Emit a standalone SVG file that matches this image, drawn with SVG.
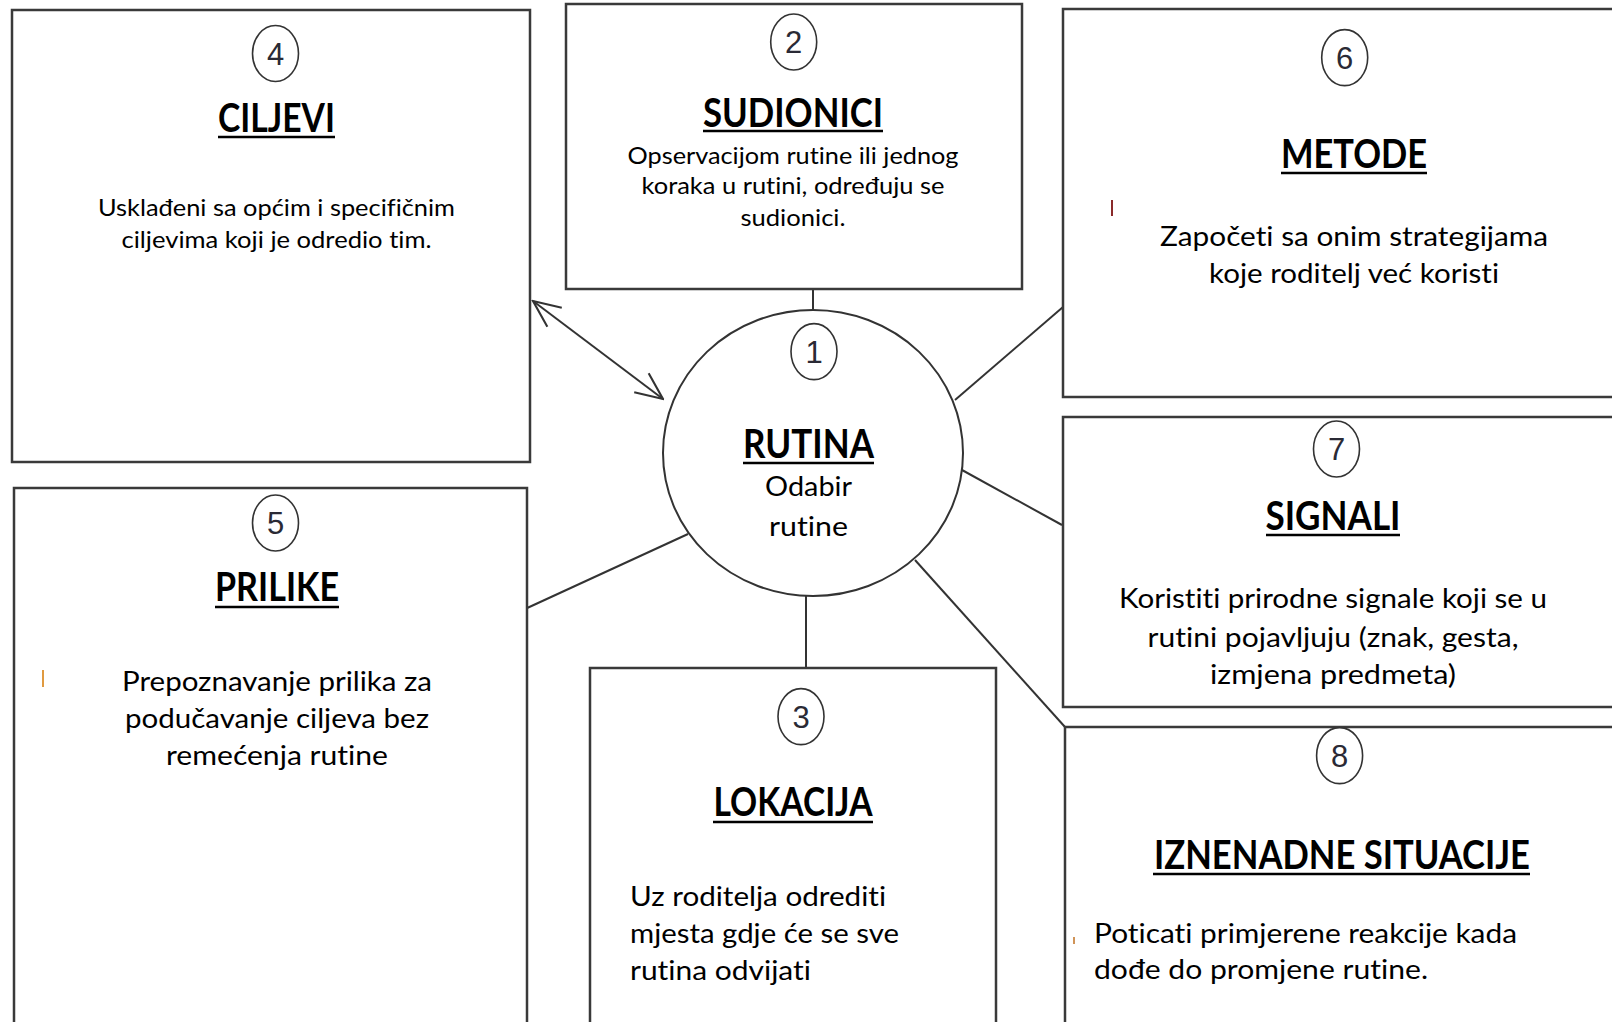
<svg xmlns="http://www.w3.org/2000/svg" width="1612" height="1022" viewBox="0 0 1612 1022">
<style>
text{font-variant-ligatures:none;font-feature-settings:"liga" 0,"clig" 0,"dlig" 0}
.box{fill:#fff;stroke:#3a3a3a;stroke-width:2.5}
.num{fill:#fff;stroke:#333;stroke-width:1.6}
.numt{font-family:"Liberation Sans",Arial,sans-serif;font-size:31px;fill:#2a2a35;text-anchor:middle}
.title{font-family:Lato,"Open Sans",sans-serif;font-weight:bold;font-size:40px;fill:#000;text-anchor:middle}
.ul{stroke:#000;stroke-width:2.6}
.b1{font-family:Lato,"Open Sans",sans-serif;font-size:23px;fill:#000;text-anchor:middle}
.b2{font-family:Lato,"Open Sans",sans-serif;font-size:27px;fill:#000;text-anchor:middle}
.b2l{font-family:Lato,"Open Sans",sans-serif;font-size:27px;fill:#000}
.con{stroke:#333;stroke-width:2;fill:none}
</style>
<defs>
<marker id="arr" viewBox="0 0 20 20" refX="19" refY="10" markerWidth="30" markerHeight="30" markerUnits="userSpaceOnUse" orient="auto-start-reverse">
<path d="M1,2 L19,10 L1,18" fill="none" stroke="#333" stroke-width="1.4"/>
</marker>
</defs>
<rect width="1612" height="1022" fill="#fff"/>
<g id="connectors">
<line class="con" x1="813" y1="289" x2="813" y2="311"/>
<line class="con" x1="533" y1="301" x2="663" y2="399" marker-start="url(#arr)" marker-end="url(#arr)"/>
<line class="con" x1="955" y1="400" x2="1063" y2="307"/>
<line class="con" x1="962" y1="470" x2="1062" y2="525"/>
<line class="con" x1="915" y1="560" x2="1065" y2="727"/>
<line class="con" x1="806" y1="596" x2="806" y2="668"/>
<line class="con" x1="688" y1="534" x2="525" y2="609"/>
</g>
<g id="node-ciljevi">
<rect class="box" x="12" y="10" width="518" height="452"/>
<ellipse class="num" cx="275.5" cy="53.5" rx="23" ry="28"/>
<text class="numt" x="275.5" y="64.5">4</text>
<text class="title" x="276.5" y="132" textLength="117" lengthAdjust="spacingAndGlyphs">CILJEVI</text>
<line class="ul" x1="218" y1="137" x2="335" y2="137"/>
<text class="b1" x="276.5" y="216" textLength="357" lengthAdjust="spacingAndGlyphs">Usklađeni sa općim i specifičnim</text>
<text class="b1" x="276.5" y="248" textLength="310" lengthAdjust="spacingAndGlyphs">ciljevima koji je odredio tim.</text>
</g>
<g id="node-sudionici">
<rect class="box" x="566" y="4" width="456" height="285"/>
<ellipse class="num" cx="793.7" cy="42" rx="23" ry="28"/>
<text class="numt" x="793.7" y="53">2</text>
<text class="title" x="793" y="126.5" textLength="180" lengthAdjust="spacingAndGlyphs">SUDIONICI</text>
<line class="ul" x1="703" y1="131" x2="883" y2="131"/>
<text class="b1" x="793" y="163.5" textLength="331" lengthAdjust="spacingAndGlyphs">Opservacijom rutine ili jednog</text>
<text class="b1" x="793" y="194" textLength="303" lengthAdjust="spacingAndGlyphs">koraka u rutini, određuju se</text>
<text class="b1" x="793" y="226" textLength="105" lengthAdjust="spacingAndGlyphs">sudionici.</text>
</g>
<g id="node-metode">
<rect class="box" x="1063" y="9" width="580" height="388"/>
<ellipse class="num" cx="1344.7" cy="57.6" rx="23" ry="28"/>
<text class="numt" x="1344.7" y="68.6">6</text>
<text class="title" x="1354" y="167.5" textLength="146" lengthAdjust="spacingAndGlyphs">METODE</text>
<line class="ul" x1="1281" y1="173" x2="1427" y2="173"/>
<line x1="1112" y1="200" x2="1112" y2="216" stroke="#8a2a2a" stroke-width="2"/>
<text class="b2" x="1354" y="246" textLength="388" lengthAdjust="spacingAndGlyphs">Započeti sa onim strategijama</text>
<text class="b2" x="1354" y="283" textLength="290" lengthAdjust="spacingAndGlyphs">koje roditelj već koristi</text>
</g>
<g id="node-signali">
<rect class="box" x="1063" y="417" width="580" height="290"/>
<ellipse class="num" cx="1336.5" cy="449" rx="23" ry="28"/>
<text class="numt" x="1336.5" y="460">7</text>
<text class="title" x="1333" y="529.5" textLength="135" lengthAdjust="spacingAndGlyphs">SIGNALI</text>
<line class="ul" x1="1266" y1="535" x2="1400" y2="535"/>
<text class="b2" x="1333" y="607.5" textLength="428" lengthAdjust="spacingAndGlyphs">Koristiti prirodne signale koji se u</text>
<text class="b2" x="1333" y="646.5" textLength="371" lengthAdjust="spacingAndGlyphs">rutini pojavljuju (znak, gesta,</text>
<text class="b2" x="1333" y="683.5" textLength="246" lengthAdjust="spacingAndGlyphs">izmjena predmeta)</text>
</g>
<g id="node-iznenadne">
<rect class="box" x="1065" y="727" width="580" height="320"/>
<ellipse class="num" cx="1339.6" cy="755.6" rx="23" ry="28"/>
<text class="numt" x="1339.6" y="766.6">8</text>
<text class="title" x="1342" y="869" textLength="376" lengthAdjust="spacingAndGlyphs">IZNENADNE SITUACIJE</text>
<line class="ul" x1="1153" y1="874" x2="1530" y2="874"/>
<line x1="1074" y1="937" x2="1074" y2="944" stroke="#c07020" stroke-width="1.5"/>
<text class="b2l" x="1094" y="943" textLength="423" lengthAdjust="spacingAndGlyphs">Poticati primjerene reakcije kada</text>
<text class="b2l" x="1094" y="979" textLength="334" lengthAdjust="spacingAndGlyphs">dođe do promjene rutine.</text>
</g>
<g id="node-prilike">
<rect class="box" x="14" y="488" width="513" height="560"/>
<ellipse class="num" cx="275.5" cy="523" rx="23" ry="28"/>
<text class="numt" x="275.5" y="534">5</text>
<text class="title" x="277" y="601" textLength="124" lengthAdjust="spacingAndGlyphs">PRILIKE</text>
<line class="ul" x1="215" y1="607" x2="339" y2="607"/>
<line x1="43" y1="670" x2="43" y2="687" stroke="#e09a40" stroke-width="2"/>
<text class="b2" x="277" y="691" textLength="310" lengthAdjust="spacingAndGlyphs">Prepoznavanje prilika za</text>
<text class="b2" x="277" y="728" textLength="304" lengthAdjust="spacingAndGlyphs">podučavanje ciljeva bez</text>
<text class="b2" x="277" y="765" textLength="222" lengthAdjust="spacingAndGlyphs">remećenja rutine</text>
</g>
<g id="node-lokacija">
<rect class="box" x="590" y="668" width="406" height="380"/>
<ellipse class="num" cx="801" cy="716.6" rx="23" ry="28"/>
<text class="numt" x="801" y="727.6">3</text>
<text class="title" x="793" y="816" textLength="159" lengthAdjust="spacingAndGlyphs">LOKACIJA</text>
<line class="ul" x1="713" y1="822" x2="873" y2="822"/>
<text class="b2l" x="630" y="906" textLength="256" lengthAdjust="spacingAndGlyphs">Uz roditelja odrediti</text>
<text class="b2l" x="630" y="943" textLength="269" lengthAdjust="spacingAndGlyphs">mjesta gdje će se sve</text>
<text class="b2l" x="630" y="980" textLength="181" lengthAdjust="spacingAndGlyphs">rutina odvijati</text>
</g>
<g id="node-rutina">
<ellipse cx="813" cy="453" rx="150" ry="143" fill="#fff" stroke="#333" stroke-width="2"/>
<ellipse class="num" cx="814" cy="351.6" rx="23" ry="28"/>
<text class="numt" x="814" y="362.6">1</text>
<text class="title" x="808.5" y="457.5" textLength="131" lengthAdjust="spacingAndGlyphs">RUTINA</text>
<line class="ul" x1="743" y1="463" x2="874" y2="463"/>
<text class="b2" x="808.5" y="495.5" font-size="28" textLength="87" lengthAdjust="spacingAndGlyphs">Odabir</text>
<text class="b2" x="808.5" y="535.5" font-size="28" textLength="79" lengthAdjust="spacingAndGlyphs">rutine</text>
</g>
</svg>
